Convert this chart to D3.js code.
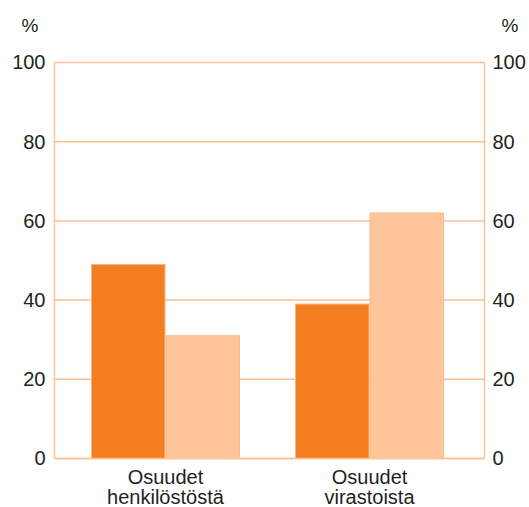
<!DOCTYPE html>
<html>
<head>
<meta charset="utf-8">
<script src="https://cdn.jsdelivr.net/npm/d3@7"></script>
<style>
  html, body { margin: 0; padding: 0; background: #fff; }
  svg { display: block; }
  text { font-family: "Liberation Sans", Arial, Helvetica, sans-serif; fill: #231f20; }
</style>
</head>
<body>
<svg id="chart" width="529" height="507"></svg>
<script>
// Category groups (two-line labels) and the two series shown per group
const categories = ["Osuudet henkilöstöstä", "Osuudet virastoista"];
const categoryLines = [["Osuudet", "henkilöstöstä"], ["Osuudet", "virastoista"]];
const seriesA = [49, 39];   // dark orange
const seriesB = [31, 62];   // light orange
const yTicks = [0, 20, 40, 60, 80, 100];
const unitLabel = "%";

const svg = d3.select("#chart");
const plot = { left: 54.5, right: 484.5, top: 62.5, bottom: 458.5 };
const fontStack = "'Liberation Sans', Arial, Helvetica, sans-serif";

const y = d3.scaleLinear().domain([0, 100]).range([plot.bottom, plot.top]);

const x0 = d3.scaleBand()
  .domain(categories)
  .range([91, 444])
  .paddingInner(0.27)
  .paddingOuter(0);

const x1 = d3.scaleBand()
  .domain(["a", "b"])
  .range([0, x0.bandwidth()])
  .padding(0);

const gridColor = "#fcc195";

// Horizontal gridlines
svg.append("g")
  .selectAll("line")
  .data(yTicks)
  .join("line")
  .attr("x1", plot.left)
  .attr("x2", plot.right)
  .attr("y1", d => y(d))
  .attr("y2", d => y(d))
  .attr("stroke", gridColor)
  .attr("stroke-width", 1.5);

// Frame sides
svg.append("line")
  .attr("x1", plot.left).attr("x2", plot.left)
  .attr("y1", plot.top).attr("y2", plot.bottom)
  .attr("stroke", gridColor).attr("stroke-width", 1.5);
svg.append("line")
  .attr("x1", plot.right).attr("x2", plot.right)
  .attr("y1", plot.top).attr("y2", plot.bottom)
  .attr("stroke", gridColor).attr("stroke-width", 1.5);

// Bars
const rows = categories.map((c, i) => ({ cat: c, vals: [
  { key: "a", v: seriesA[i] },
  { key: "b", v: seriesB[i] }
]}));

const groups = svg.append("g")
  .selectAll("g")
  .data(rows)
  .join("g")
  .attr("transform", d => `translate(${x0(d.cat)},0)`);

groups.selectAll("rect")
  .data(d => d.vals)
  .join("rect")
  .attr("x", d => x1(d.key) + 0.5)
  .attr("width", x1.bandwidth() - 1)
  .attr("y", d => y(d.v))
  .attr("height", d => y(0) - y(d.v))
  .attr("fill", d => d.key === "a" ? "#f37d21" : "#fdc599")
  .attr("stroke", d => d.key === "a" ? "#f8b584" : "#fbba87")
  .attr("stroke-width", 1);

// Redraw baseline over bars
svg.append("line")
  .attr("x1", plot.left).attr("x2", plot.right)
  .attr("y1", y(0)).attr("y2", y(0))
  .attr("stroke", gridColor).attr("stroke-width", 1.5);

// Left axis labels
const leftAxis = d3.axisLeft(y).tickValues(yTicks).tickSize(0).tickPadding(9);
const gl = svg.append("g").attr("transform", `translate(${plot.left},0)`).call(leftAxis);
gl.select(".domain").remove();
gl.selectAll("text").attr("font-size", 20).style("font-family", fontStack).attr("fill", "#231f20");

// Right axis labels
const rightAxis = d3.axisRight(y).tickValues(yTicks).tickSize(0).tickPadding(8);
const gr = svg.append("g").attr("transform", `translate(${plot.right},0)`).call(rightAxis);
gr.select(".domain").remove();
gr.selectAll("text").attr("font-size", 20).style("font-family", fontStack).attr("fill", "#231f20");

// Unit labels
svg.append("text").attr("x", 30).attr("y", 32).attr("text-anchor", "middle")
  .attr("font-size", 19).text(unitLabel);
svg.append("text").attr("x", 510).attr("y", 32).attr("text-anchor", "middle")
  .attr("font-size", 19).text(unitLabel);

// Category labels
categories.forEach((c, i) => {
  const cx = x0(c) + x0.bandwidth() / 2;
  const t = svg.append("text")
    .attr("text-anchor", "middle")
    .attr("font-size", 20)
    .attr("x", cx)
    .attr("y", 484);
  categoryLines[i].forEach((line, j) => {
    t.append("tspan").attr("x", cx).attr("dy", j === 0 ? 0 : 20).text(line);
  });
});
</script>
</body>
</html>
